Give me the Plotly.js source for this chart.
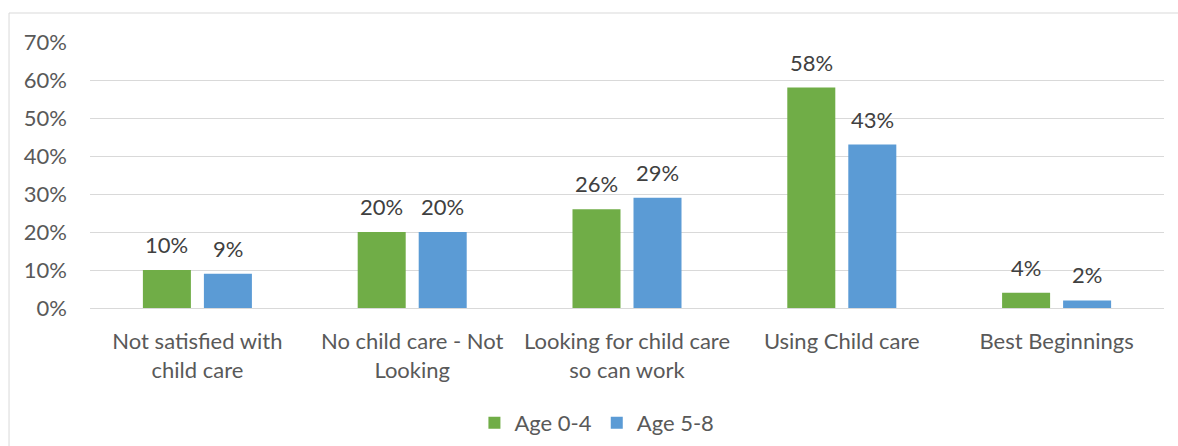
<!DOCTYPE html>
<html>
<head>
<meta charset="utf-8">
<script src="https://cdn.plot.ly/plotly-3.0.1.min.js"></script>
<style>
html,body{margin:0;padding:0;background:#fff;}
#chart{width:1178px;height:446px;}
</style>
</head>
<body>
<div id="chart"></div>
<script>
const categories = ["Not satisfied with<br>child care", "No child care - Not<br>Looking", "Looking for child care<br>so can work", "Using Child care", "Best Beginnings"];
const age04 = [0.10, 0.20, 0.26, 0.58, 0.04];
const age58 = [0.09, 0.20, 0.29, 0.43, 0.02];
const seriesNames = ["Age 0-4", "Age 5-8"];
const yTicks = [0, 0.1, 0.2, 0.3, 0.4, 0.5, 0.6, 0.7];

const FONT = "Lato, 'Open Sans', sans-serif";
const FS = 22;
const green = "#70AD47", blue = "#5B9BD5";

const traces = [
  {type: "bar", name: seriesNames[0], x: categories, y: age04, marker: {color: green}, hoverinfo: "none"},
  {type: "bar", name: seriesNames[1], x: categories, y: age58, marker: {color: blue}, hoverinfo: "none"}
];

const annotations = [];
[age04, age58].forEach((vals, si) => {
  vals.forEach((v, i) => {
    annotations.push({
      x: categories[i], y: v, xref: "x", yref: "y",
      xshift: si === 0 ? -30.5 : 30.5, yshift: 10,
      yanchor: "bottom", showarrow: false,
      text: Math.round(v * 100) + "%",
      font: {family: FONT, size: FS, color: "#404040"}
    });
  });
});

const layout = {
  width: 1178, height: 446,
  margin: {l: 90, r: 14, t: 42, b: 138, autoexpand: false},
  paper_bgcolor: "#fff", plot_bgcolor: "#fff",
  barmode: "group", bargap: 0.432, bargroupgap: 0.213,
  font: {family: FONT, size: FS, color: "#595959"},
  xaxis: {
    type: "category", showgrid: false, zeroline: false,
    showline: true, linecolor: "#d9d9d9", linewidth: 1,
    ticks: "", tickfont: {family: FONT, size: FS, color: "#595959"},
    ticklabelstandoff: 14, automargin: false,
    fixedrange: true
  },
  yaxis: {
    range: [0, 0.7], tickvals: yTicks, tickformat: ".0%",
    showgrid: true, gridcolor: "#d9d9d9", gridwidth: 1,
    zeroline: false, showline: false, ticks: "",
    ticklabelstandoff: 22, automargin: false,
    tickfont: {family: FONT, size: FS, color: "#595959"},
    fixedrange: true
  },
  showlegend: true,
  legend: {
    orientation: "h", x: 0.472, xanchor: "center", y: -0.432, yanchor: "middle",
    font: {family: FONT, size: FS, color: "#595959"},
    itemwidth: 30, traceorder: "normal"
  },
  annotations: annotations,
  shapes: [{
    type: "rect", xref: "paper", yref: "paper",
    x0: -0.0754, x1: 1.1, y0: -0.6, y1: 1.109,
    line: {color: "#d9d9d9", width: 1}, fillcolor: "rgba(0,0,0,0)", layer: "below"
  }]
};

Plotly.newPlot("chart", traces, layout, {displayModeBar: false, staticPlot: true});
</script>
</body>
</html>
